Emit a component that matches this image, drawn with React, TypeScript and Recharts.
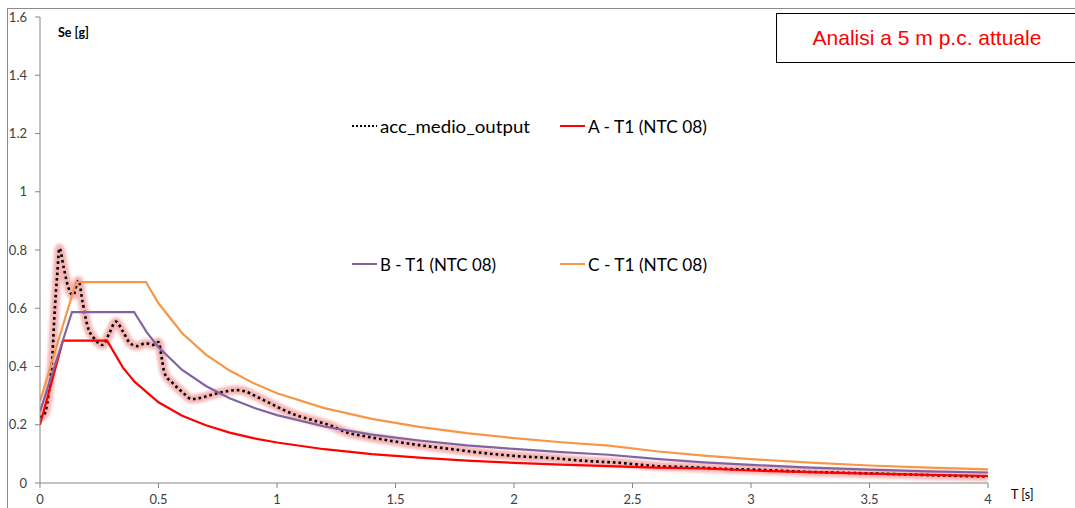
import React from 'react';
import { LineChart, Line, XAxis, YAxis, Legend } from 'recharts';

// acc_medio_output
const accT = [0, 0.018, 0.03, 0.04, 0.053, 0.06, 0.073, 0.082, 0.1, 0.12, 0.14, 0.162, 0.18, 0.2, 0.23, 0.265, 0.29, 0.32, 0.35, 0.38, 0.41, 0.445, 0.475, 0.5, 0.515, 0.525, 0.56, 0.605, 0.64, 0.675, 0.72, 0.775, 0.83, 0.86, 0.915, 0.97, 1.03, 1.08, 1.15, 1.22, 1.3, 1.36, 1.45, 1.6, 1.73, 1.87, 2.0, 2.15, 2.3, 2.45, 2.6, 2.75, 2.9, 3.0, 3.25, 3.5, 3.75, 4.0];
const accSe = [0.225, 0.235, 0.27, 0.33, 0.446, 0.56, 0.72, 0.806, 0.74, 0.67, 0.645, 0.695, 0.62, 0.54, 0.495, 0.474, 0.51, 0.554, 0.52, 0.48, 0.47, 0.48, 0.474, 0.484, 0.422, 0.378, 0.343, 0.309, 0.288, 0.292, 0.302, 0.313, 0.319, 0.316, 0.296, 0.274, 0.25, 0.233, 0.216, 0.199, 0.172, 0.162, 0.149, 0.13, 0.117, 0.103, 0.093, 0.086, 0.076, 0.069, 0.058, 0.054, 0.048, 0.046, 0.038, 0.033, 0.027, 0.022];

// A - T1 (NTC 08)
const aT = [0, 0.097, 0.283, 0.35, 0.4, 0.5, 0.6, 0.7, 0.8, 0.9, 1.0, 1.2, 1.4, 1.6, 1.8, 2.0, 2.2, 2.4, 2.6, 2.8, 3.0, 3.25, 3.5, 3.75, 4.0];
const aSe = [0.2, 0.489, 0.489, 0.396, 0.347, 0.277, 0.231, 0.198, 0.173, 0.154, 0.139, 0.116, 0.099, 0.087, 0.077, 0.069, 0.063, 0.058, 0.053, 0.05, 0.043, 0.037, 0.032, 0.028, 0.024];

// B - T1 (NTC 08)
const bT = [0, 0.135, 0.397, 0.45, 0.5, 0.6, 0.7, 0.8, 0.9, 1.0, 1.2, 1.4, 1.6, 1.8, 2.0, 2.2, 2.4, 2.6, 2.8, 3.0, 3.25, 3.5, 3.75, 4.0];
const bSe = [0.245, 0.587, 0.587, 0.518, 0.466, 0.388, 0.333, 0.291, 0.259, 0.233, 0.194, 0.166, 0.146, 0.129, 0.117, 0.106, 0.097, 0.083, 0.071, 0.062, 0.053, 0.046, 0.04, 0.036];

// C - T1 (NTC 08)
const cT = [0, 0.152, 0.447, 0.5, 0.6, 0.7, 0.8, 0.9, 1.0, 1.2, 1.4, 1.6, 1.8, 2.0, 2.2, 2.4, 2.6, 2.8, 3.0, 3.25, 3.5, 3.75, 4.0];
const cSe = [0.28, 0.69, 0.69, 0.617, 0.514, 0.441, 0.386, 0.343, 0.308, 0.257, 0.22, 0.193, 0.171, 0.154, 0.14, 0.128, 0.109, 0.094, 0.082, 0.07, 0.06, 0.053, 0.047];

const xTicks = [0, 0.5, 1, 1.5, 2, 2.5, 3, 3.5, 4];
const yTicks = [0, 0.2, 0.4, 0.6, 0.8, 1, 1.2, 1.4, 1.6];
const seriesNames = ['acc_medio_output', 'A - T1 (NTC 08)', 'B - T1 (NTC 08)', 'C - T1 (NTC 08)'];
const seriesColors = ['#000000', '#ff0000', '#8064a2', '#f79646'];
const titleText = 'Analisi a 5 m p.c. attuale';
const yAxisTitle = 'Se [g]';
const xAxisTitle = 'T [s]';

const zip = (t: number[], s: number[]) => t.map((x, i) => ({ t: x, se: s[i] }));
const accData = zip(accT, accSe);
const aData = zip(aT, aSe);
const bData = zip(bT, bSe);
const cData = zip(cT, cSe);

const legendFont = 'Lato, "Open Sans", sans-serif';

const legendPos = [
  { x: 352, y: 126, w: 150 },
  { x: 560, y: 126, w: 119 },
  { x: 352, y: 264, w: 116 },
  { x: 560, y: 264, w: 119 },
];

const LegendContent = () => (
  <svg width={1075} height={508} style={{ position: 'absolute', left: 0, top: 0, overflow: 'visible' }}>
    {seriesNames.map((name, i) => {
      const p = legendPos[i];
      return (
        <g key={name}>
          <line
            x1={p.x}
            x2={p.x + 25}
            y1={p.y}
            y2={p.y}
            stroke={seriesColors[i]}
            strokeWidth={2}
            strokeDasharray={i === 0 ? '2 2' : undefined}
          />
          <text
            x={p.x + 28}
            y={p.y}
            dominantBaseline="central"
            fontSize={17}
            fontFamily={legendFont}
            fill="#000"
            textLength={p.w}
            lengthAdjust="spacingAndGlyphs"
          >
            {name}
          </text>
        </g>
      );
    })}
    <text x={58} y={32} dominantBaseline="central" fontSize={12.5} fontWeight="bold" fontFamily={legendFont} fill="#000">
      {yAxisTitle}
    </text>
    <text x={1011} y={494} dominantBaseline="central" fontSize={12.5} fontFamily={legendFont} fill="#000">
      {xAxisTitle}
    </text>
  </svg>
);

export default function App() {
  return (
    <div style={{ position: 'absolute', left: 0, top: 0, width: 1075, height: 508, overflow: 'hidden', background: '#fff' }}>
      <style>{`html,body{overflow:hidden}`}</style>
      <div style={{ position: 'absolute', left: 7, top: 8, width: 1200, height: 700, border: '1px solid #8c8c8c' }} />
      <div style={{ position: 'absolute', left: 0, top: 0 }}>
        <LineChart width={1075} height={508} margin={{ top: 17, right: 87, left: 0, bottom: 0 }}>
          <defs>
            <filter id="glow" x="-5%" y="-5%" width="110%" height="110%">
              <feGaussianBlur stdDeviation="1.8" />
            </filter>
          </defs>
          <XAxis
            type="number"
            dataKey="t"
            domain={[0, 4]}
            ticks={xTicks}
            height={25}
            tickSize={5}
            tickMargin={7}
            stroke="#868686"
            tick={{ fill: '#404040', fontSize: 13, fontFamily: legendFont }}
            allowDataOverflow
          />
          <YAxis
            type="number"
            domain={[0, 1.6]}
            ticks={yTicks}
            width={40}
            tickSize={5}
            tickMargin={8}
            stroke="#868686"
            tick={{ fill: '#404040', fontSize: 13, fontFamily: legendFont }}
            allowDataOverflow
          />
          <Legend
            verticalAlign="middle"
            layout="horizontal"
            content={() => <LegendContent />}
            wrapperStyle={{ position: 'absolute', left: 0, top: 0, width: 1075, height: 508, pointerEvents: 'none' }}
          />
          <Line
            data={accData}
            dataKey="se"
            type="monotone"
            stroke="#f08c8c"
            strokeOpacity={0.65}
            strokeWidth={9}
            dot={false}
            activeDot={false}
            legendType="none"
            filter="url(#glow)"
            isAnimationActive={false}
          />
          <Line
            data={accData}
            dataKey="se"
            type="monotone"
            stroke="#000000"
            strokeWidth={2.6}
            strokeDasharray="2.6 3"
            dot={false}
            activeDot={false}
            name={seriesNames[0]}
            isAnimationActive={false}
          />
          <Line data={aData} dataKey="se" type="linear" stroke={seriesColors[1]} strokeWidth={2.2} dot={false} activeDot={false} name={seriesNames[1]} isAnimationActive={false} />
          <Line data={bData} dataKey="se" type="linear" stroke={seriesColors[2]} strokeWidth={2.2} dot={false} activeDot={false} name={seriesNames[2]} isAnimationActive={false} />
          <Line data={cData} dataKey="se" type="linear" stroke={seriesColors[3]} strokeWidth={2.2} dot={false} activeDot={false} name={seriesNames[3]} isAnimationActive={false} />
        </LineChart>
      </div>
      <div
        style={{
          position: 'absolute',
          left: 776,
          top: 13,
          width: 320,
          height: 48,
          border: '1.5px solid #000',
          display: 'flex',
          alignItems: 'center',
        }}
      >
        <div
          style={{
            width: 300,
            textAlign: 'center',
            color: '#ff0000',
            fontFamily: '"Liberation Sans", Arial, sans-serif',
            fontSize: 21,
          }}
        >
          {titleText}
        </div>
      </div>
    </div>
  );
}
